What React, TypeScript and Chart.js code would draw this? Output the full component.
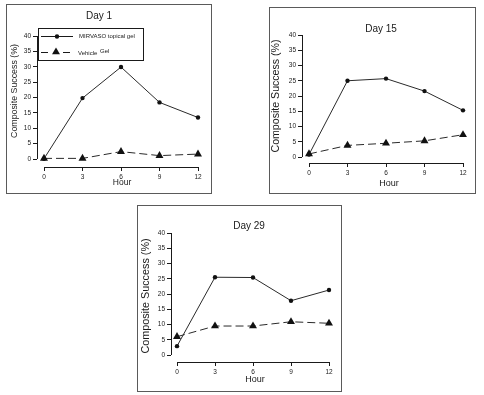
import React, { useEffect, useRef } from "react";
import { Chart, registerables } from "chart.js";

Chart.register(...registerables);

// ---------- data ----------
const hours = [0, 3, 6, 9, 12];
const xTickValues = [0, 3, 6, 9, 12];
const yTickValues = [0, 5, 10, 15, 20, 25, 30, 35, 40];

const day1Mirvaso = [0.1, 19.8, 29.9, 18.4, 13.5];
const day1Vehicle = [0.2, 0.2, 2.4, 1.1, 1.6];
const day15Mirvaso = [0.8, 25.0, 25.7, 21.6, 15.3];
const day15Vehicle = [1.0, 3.8, 4.5, 5.3, 7.3];
const day29Mirvaso = [2.9, 25.5, 25.4, 17.8, 21.3];
const day29Vehicle = [6.0, 9.5, 9.5, 10.9, 10.4];

const seriesLabels = ["MIRVASO topical gel", "Vehicle", "Gel"];
const panelTitles = ["Day 1", "Day 15", "Day 29"];
const xAxisTitle = "Hour";
const yAxisTitle = "Composite Success (%)";

const FONT = "'Liberation Sans', Arial, Helvetica, sans-serif";
const INK = "#1a1a1a";

type PanelCfg = {
  title: string;
  mirvaso: number[];
  vehicle: number[];
  box: { l: number; t: number; r: number; b: number };
  axisX: number; // pixel x of y-axis line
  axisY: number; // pixel y of x-axis line
  x0: number;
  x12: number;
  y0: number;
  y40: number;
  areaTop: number;
  areaRight: number;
  titlePos: { x: number; y: number; size: number };
  yTitlePos: { x: number; y: number; size: number };
  xTitlePos: { x: number; y: number; size: number };
  tickSize: number;
  legend: boolean;
};

const panels: PanelCfg[] = [
  {
    title: panelTitles[0],
    mirvaso: day1Mirvaso,
    vehicle: day1Vehicle,
    box: { l: 6, t: 4, r: 212, b: 194 },
    axisX: 37,
    axisY: 167,
    x0: 44,
    x12: 198,
    y0: 159,
    y40: 36,
    areaTop: 28,
    areaRight: 205,
    titlePos: { x: 99, y: 16, size: 10 },
    yTitlePos: { x: 15, y: 91, size: 8.8 },
    xTitlePos: { x: 122, y: 183, size: 8.5 },
    tickSize: 6.5,
    legend: true,
  },
  {
    title: panelTitles[1],
    mirvaso: day15Mirvaso,
    vehicle: day15Vehicle,
    box: { l: 269, t: 7, r: 476, b: 194 },
    axisX: 302,
    axisY: 163,
    x0: 309,
    x12: 463,
    y0: 157,
    y40: 35,
    areaTop: 30,
    areaRight: 470,
    titlePos: { x: 381, y: 29, size: 10 },
    yTitlePos: { x: 276, y: 96, size: 10.6 },
    xTitlePos: { x: 389, y: 184, size: 9 },
    tickSize: 6.5,
    legend: false,
  },
  {
    title: panelTitles[2],
    mirvaso: day29Mirvaso,
    vehicle: day29Vehicle,
    box: { l: 137, t: 205, r: 342, b: 392 },
    axisX: 171,
    axisY: 362,
    x0: 177,
    x12: 329,
    y0: 355,
    y40: 233,
    areaTop: 229,
    areaRight: 336,
    titlePos: { x: 249, y: 226, size: 10 },
    yTitlePos: { x: 146, y: 296, size: 10.8 },
    xTitlePos: { x: 255, y: 380, size: 9 },
    tickSize: 6.5,
    legend: false,
  },
];

const W = 484;
const H = 395;
const Y_SCALE_W = 30;
const X_SCALE_H = 20;

function toPoints(vals: number[]) {
  return hours.map((h, i) => ({ x: h, y: vals[i] }));
}

function drawTriangle(ctx: CanvasRenderingContext2D, x: number, y: number, r: number) {
  ctx.beginPath();
  for (let k = 0; k < 3; k++) {
    const a = (k * 2 * Math.PI) / 3;
    const px = x + Math.sin(a) * r;
    const py = y - Math.cos(a) * r;
    if (k === 0) ctx.moveTo(px, py);
    else ctx.lineTo(px, py);
  }
  ctx.closePath();
  ctx.fill();
}

function makeDecorPlugin(cfg: PanelCfg) {
  return {
    id: "decor",
    afterDraw(chart: any) {
      const ctx: CanvasRenderingContext2D = chart.ctx;
      const xs = chart.scales.x;
      const ys = chart.scales.y;
      const area = chart.chartArea;
      ctx.save();
      // detached axis lines (R style)
      ctx.strokeStyle = INK;
      ctx.lineWidth = 1;
      ctx.setLineDash([]);
      const ax = Math.round(area.left) + 0.5;
      const ay = Math.round(area.bottom) + 0.5;
      ctx.beginPath();
      ctx.moveTo(ax, ys.getPixelForValue(yTickValues[0]));
      ctx.lineTo(ax, ys.getPixelForValue(yTickValues[yTickValues.length - 1]));
      ctx.moveTo(xs.getPixelForValue(xTickValues[0]), ay);
      ctx.lineTo(xs.getPixelForValue(xTickValues[xTickValues.length - 1]), ay);
      ctx.stroke();

      // texts
      ctx.fillStyle = INK;
      ctx.textAlign = "center";
      ctx.textBaseline = "middle";
      ctx.font = `${cfg.titlePos.size}px ${FONT}`;
      ctx.fillText(cfg.title, cfg.titlePos.x, cfg.titlePos.y);
      ctx.font = `${cfg.xTitlePos.size}px ${FONT}`;
      ctx.fillText(xAxisTitle, cfg.xTitlePos.x, cfg.xTitlePos.y);
      ctx.save();
      ctx.translate(cfg.yTitlePos.x, cfg.yTitlePos.y);
      ctx.rotate(-Math.PI / 2);
      ctx.font = `${cfg.yTitlePos.size}px ${FONT}`;
      ctx.fillText(yAxisTitle, 0, 0);
      ctx.restore();

      if (cfg.legend) {
        const lx = 38.5;
        const ly = 28.5;
        const lw = 105;
        const lh = 32;
        ctx.fillStyle = "#ffffff";
        ctx.fillRect(lx, ly, lw, lh);
        ctx.strokeStyle = INK;
        ctx.lineWidth = 1;
        ctx.strokeRect(lx, ly, lw, lh);
        // row 1
        const r1 = 36.5;
        ctx.beginPath();
        ctx.moveTo(41, r1);
        ctx.lineTo(73, r1);
        ctx.stroke();
        ctx.fillStyle = "#111";
        ctx.beginPath();
        ctx.arc(57, r1, 2.2, 0, Math.PI * 2);
        ctx.fill();
        // row 2
        const r2 = 52.5;
        ctx.beginPath();
        ctx.moveTo(41, r2);
        ctx.lineTo(48, r2);
        ctx.moveTo(63, r2);
        ctx.lineTo(70, r2);
        ctx.stroke();
        drawTriangle(ctx, 56, r2 - 0.5, 4.6);
        ctx.fillStyle = INK;
        ctx.textAlign = "left";
        ctx.font = `6px ${FONT}`;
        ctx.fillText(seriesLabels[0], 79, r1);
        ctx.fillText(seriesLabels[1], 78, r2 + 0.5);
        ctx.fillText(seriesLabels[2], 100, r2 - 1.5);
      }
      ctx.restore();
    },
  };
}

function Panel({ cfg }: { cfg: PanelCfg }) {
  const ref = useRef<HTMLCanvasElement | null>(null);
  useEffect(() => {
    if (!ref.current) return;
    const pxPerX = (cfg.x12 - cfg.x0) / 12;
    const pxPerY = (cfg.y0 - cfg.y40) / 40;
    const xMin = -(cfg.x0 - cfg.axisX) / pxPerX;
    const xMax = 12 + (cfg.areaRight - cfg.x12) / pxPerX;
    const yMin = -(cfg.axisY - cfg.y0) / pxPerY;
    const yMax = 40 + (cfg.y40 - cfg.areaTop) / pxPerY;

    const tickFont = { size: cfg.tickSize, family: FONT };
    const chart = new Chart(ref.current, {
      type: "line",
      data: {
        datasets: [
          {
            label: seriesLabels[0],
            data: toPoints(cfg.mirvaso),
            borderColor: "#2a2a2a",
            borderWidth: 1,
            pointStyle: "circle",
            pointRadius: 2.2,
            pointBackgroundColor: "#111",
            pointBorderColor: "#111",
            pointBorderWidth: 0,
            tension: 0,
            fill: false,
            clip: false,
          },
          {
            label: seriesLabels[1] + " " + seriesLabels[2],
            data: toPoints(cfg.vehicle),
            borderColor: "#2a2a2a",
            borderWidth: 1,
            borderDash: [8, 4],
            pointStyle: "triangle",
            pointRadius: 4.6,
            pointBackgroundColor: "#111",
            pointBorderColor: "#111",
            pointBorderWidth: 0,
            tension: 0,
            fill: false,
            clip: false,
          },
        ],
      } as any,
      options: {
        responsive: false,
        animation: false,
        devicePixelRatio: 1,
        events: [],
        layout: {
          padding: {
            left: cfg.axisX - Y_SCALE_W,
            top: cfg.areaTop,
            right: W - cfg.areaRight,
            bottom: H - cfg.axisY - X_SCALE_H,
          },
        },
        plugins: {
          legend: { display: false },
          title: { display: false },
          tooltip: { enabled: false },
        },
        scales: {
          x: {
            type: "linear",
            min: xMin,
            max: xMax,
            afterBuildTicks: (s: any) => {
              s.ticks = xTickValues.map((v) => ({ value: v }));
            },
            afterFit: (s: any) => {
              s.height = X_SCALE_H;
            },
            grid: {
              display: true,
              drawOnChartArea: false,
              drawTicks: true,
              tickLength: 4,
              color: INK,
              lineWidth: 1,
            },
            border: { display: false },
            ticks: {
              font: tickFont,
              color: INK,
              padding: 2,
              maxRotation: 0,
              autoSkip: false,
            },
          },
          y: {
            type: "linear",
            min: yMin,
            max: yMax,
            afterBuildTicks: (s: any) => {
              s.ticks = yTickValues.map((v) => ({ value: v }));
            },
            afterFit: (s: any) => {
              s.width = Y_SCALE_W;
            },
            grid: {
              display: true,
              drawOnChartArea: false,
              drawTicks: true,
              tickLength: 4,
              color: INK,
              lineWidth: 1,
            },
            border: { display: false },
            ticks: {
              font: tickFont,
              color: INK,
              padding: 2,
              autoSkip: false,
            },
          },
        },
      } as any,
      plugins: [makeDecorPlugin(cfg)],
    });
    return () => chart.destroy();
  }, [cfg]);

  return (
    <canvas
      ref={ref}
      width={W}
      height={H}
      style={{ position: "absolute", left: 0, top: 0, width: W, height: H, display: "block" }}
    />
  );
}

export default function App() {
  return (
    <div
      style={{
        position: "absolute",
        left: 0,
        top: 0,
        width: W,
        height: H,
        background: "#ffffff",
        overflow: "hidden",
      }}
    >
      {panels.map((p, i) => (
        <div
          key={"box" + i}
          style={{
            position: "absolute",
            left: p.box.l,
            top: p.box.t,
            width: p.box.r - p.box.l,
            height: p.box.b - p.box.t,
            border: "1px solid #5a5a5a",
            boxSizing: "border-box",
          }}
        />
      ))}
      {panels.map((p, i) => (
        <Panel key={"panel" + i} cfg={p} />
      ))}
    </div>
  );
}
